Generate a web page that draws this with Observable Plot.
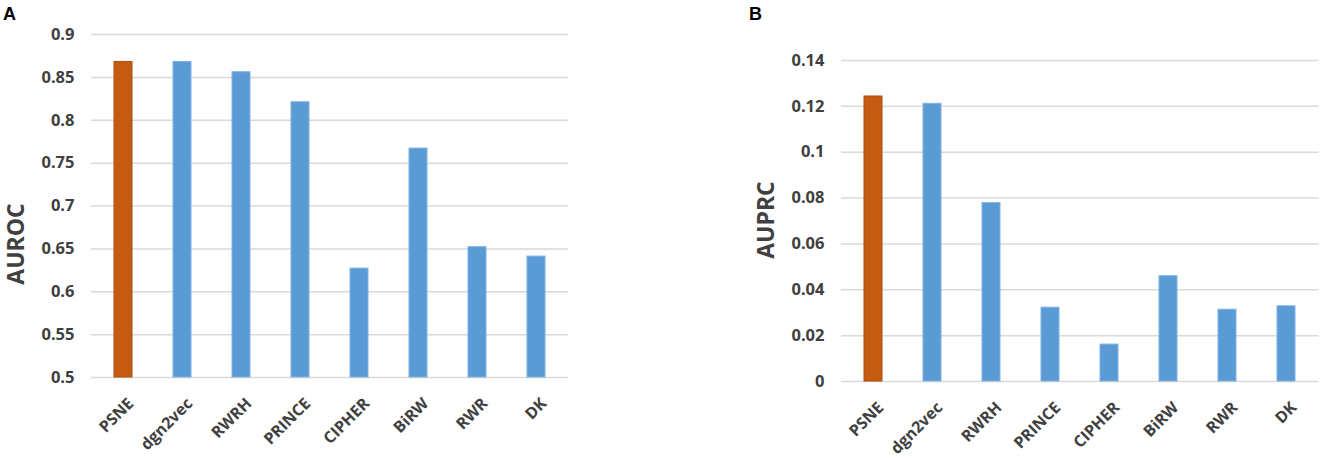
<!DOCTYPE html>
<html>
<head>
<meta charset="utf-8">
<script src="https://cdn.jsdelivr.net/npm/d3@7"></script>
<script src="https://cdn.jsdelivr.net/npm/@observablehq/plot@0.6"></script>
<style>
  html, body { margin: 0; padding: 0; background: #fff; }
  #wrap { position: relative; width: 1325px; height: 458px; overflow: hidden; font-family: "Open Sans", sans-serif; }
  .panel { position: absolute; top: 0; }
  .letter { position: absolute; font-family: "Liberation Sans", Arial, sans-serif; font-weight: bold; font-size: 18px; line-height: 18px; color: #000; }
  .ytitle { position: absolute; font-family: "Open Sans", sans-serif; font-weight: 700; font-size: 23px; color: #404040; transform: translate(-50%, -50%) rotate(-90deg); white-space: nowrap; }
</style>
</head>
<body>
<div id="wrap">
  <div class="letter" style="left:3px; top:5px;">A</div>
  <div class="letter" style="left:749px; top:5px;">B</div>
  <div class="ytitle" style="left:15px; top:244px;">AUROC</div>
  <div class="ytitle" style="left:765px; top:220px;">AUPRC</div>
  <div id="pa" class="panel" style="left:0px;"></div>
  <div id="pb" class="panel" style="left:662px;"></div>
</div>
<script>
const methods = ["PSNE", "dgn2vec", "RWRH", "PRINCE", "CIPHER", "BiRW", "RWR", "DK"];
const auroc = [0.868, 0.868, 0.856, 0.821, 0.627, 0.767, 0.652, 0.641];
const auprc = [0.1243, 0.1211, 0.0778, 0.0322, 0.0161, 0.0459, 0.0313, 0.0328];
const aurocTicks = [0.5, 0.55, 0.6, 0.65, 0.7, 0.75, 0.8, 0.85, 0.9];
const auprcTicks = [0, 0.02, 0.04, 0.06, 0.08, 0.1, 0.12, 0.14];
const highlight = "PSNE";

const ORANGE = "#C55A11", ORANGE_EDGE = "#B04E0C";
const BLUE = "#5B9BD5", BLUE_EDGE = "#7FB1E0";
const fmt = d => String(+d.toFixed(2));

function panel(values, ticks, base, opts) {
  const data = methods.map((m, i) => ({method: m, value: values[i]}));
  return Plot.plot({
    width: opts.width,
    height: 458,
    marginLeft: opts.marginLeft,
    marginRight: opts.marginRight,
    marginTop: opts.marginTop,
    marginBottom: opts.marginBottom,
    style: {fontFamily: "'Open Sans', sans-serif", fontSize: "16px", fontWeight: 700, color: "#404040", background: "transparent", overflow: "visible"},
    x: {domain: methods, paddingInner: 0.7, paddingOuter: 0.35, axis: null},
    y: {domain: [ticks[0], ticks[ticks.length - 1]]},
    marks: [
      Plot.gridY(ticks, {stroke: "#D9D9D9", strokeOpacity: 1, strokeWidth: 1.5}),
      Plot.barY(data, {
        x: "method", y1: base, y2: "value",
        fill: d => d.method === highlight ? ORANGE : BLUE,
        stroke: d => d.method === highlight ? ORANGE_EDGE : BLUE_EDGE,
        strokeWidth: 1
      }),
      Plot.axisY(ticks, {tickSize: 0, tickPadding: 17, tickFormat: fmt, fontSize: 16.5, fontWeight: 700, label: null}),
      Plot.text(methods, {
        x: d => d, y: base, text: d => d,
        rotate: -45, textAnchor: "end", lineAnchor: "top",
        dx: 3, dy: 19, fontSize: 16, fontWeight: 700, fill: "#404040"
      })
    ]
  });
}

document.getElementById("pa").append(panel(auroc, aurocTicks, 0.5, {
  width: 640, marginLeft: 91, marginRight: 72, marginTop: 34, marginBottom: 81
}));
document.getElementById("pb").append(panel(auprc, auprcTicks, 0, {
  width: 663, marginLeft: 179, marginRight: 6.4, marginTop: 60, marginBottom: 77
}));
</script>
</body>
</html>
